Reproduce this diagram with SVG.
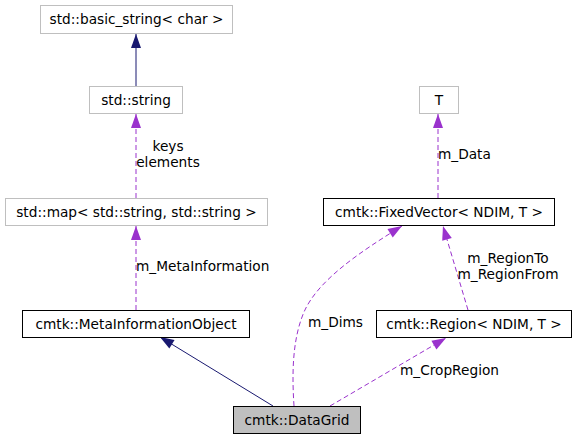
<svg xmlns="http://www.w3.org/2000/svg" width="576" height="440" viewBox="0 0 576 440">
<style>
text{font-family:"DejaVu Sans",sans-serif;font-size:13.7px;fill:#000;}
.n text{text-anchor:middle;}
.g rect{fill:#fff;stroke:#bfbfbf;stroke-width:1;}
.b rect{fill:#fff;stroke:#000;stroke-width:1;}
.dash{fill:none;stroke:#9a32cd;stroke-width:1;stroke-dasharray:5,3;marker-end:url(#pa);}
.inh{fill:none;stroke:#191970;stroke-width:1;marker-end:url(#na);}
</style>
<defs>
<marker id="pa" markerUnits="userSpaceOnUse" markerWidth="16" markerHeight="12" viewBox="0 -6 14 12" refX="14" refY="0" orient="auto"><path d="M0,-5L14,0L0,5z" fill="#9a32cd"/></marker>
<marker id="na" markerUnits="userSpaceOnUse" markerWidth="16" markerHeight="12" viewBox="0 -6 14 12" refX="14" refY="0" orient="auto"><path d="M0,-5L14,0L0,5z" fill="#191970"/></marker>
</defs>
<rect width="576" height="440" fill="#fff"/>
<g id="connectors">
<path class="inh" d="M136,86V34"/>
<path class="dash" d="M136,198V114"/>
<path class="dash" d="M136,310V226"/>
<path class="inh" d="M273,406L160,337"/>
<path class="dash" d="M438,198V114"/>
<path class="dash" d="M468,310L443,226"/>
<path class="dash" d="M294,406C292,375 292,340 304,312C318,280 360,252 402,226"/>
<path class="dash" d="M330,406L446,338"/>
<text x="168" y="151" text-anchor="middle">keys</text>
<text x="168" y="167" text-anchor="middle">elements</text>
<text x="136" y="271">m_MetaInformation</text>
<text x="438" y="159">m_Data</text>
<text x="508" y="263" text-anchor="middle">m_RegionTo</text>
<text x="508" y="279" text-anchor="middle">m_RegionFrom</text>
<text x="308" y="327">m_Dims</text>
<text x="400" y="375">m_CropRegion</text>
</g>
<g id="basic_string" class="n g"><rect x="40.5" y="5.5" width="192" height="28"/><text x="136.5" y="24">std::basic_string&lt; char &gt;</text></g>
<g id="string" class="n g"><rect x="89.5" y="86.5" width="93" height="27"/><text x="136" y="104.5">std::string</text></g>
<g id="map" class="n g"><rect x="5.5" y="198.5" width="262" height="27"/><text x="136.5" y="216.5">std::map&lt; std::string, std::string &gt;</text></g>
<g id="MetaInformationObject" class="n b"><rect x="22.5" y="310.5" width="227" height="27"/><text x="136" y="328.5">cmtk::MetaInformationObject</text></g>
<g id="T" class="n g"><rect x="419.5" y="86.5" width="39" height="27"/><text x="439" y="104.5">T</text></g>
<g id="FixedVector" class="n b"><rect x="323.5" y="198.5" width="231" height="27"/><text x="439" y="216.5">cmtk::FixedVector&lt; NDIM, T &gt;</text></g>
<g id="Region" class="n b"><rect x="376.5" y="310.5" width="195" height="27"/><text x="474" y="328.5">cmtk::Region&lt; NDIM, T &gt;</text></g>
<g id="DataGrid" class="n b"><rect x="233.5" y="406.5" width="127" height="27" style="fill:#bfbfbf"/><text x="297" y="424.5">cmtk::DataGrid</text></g>
</svg>
